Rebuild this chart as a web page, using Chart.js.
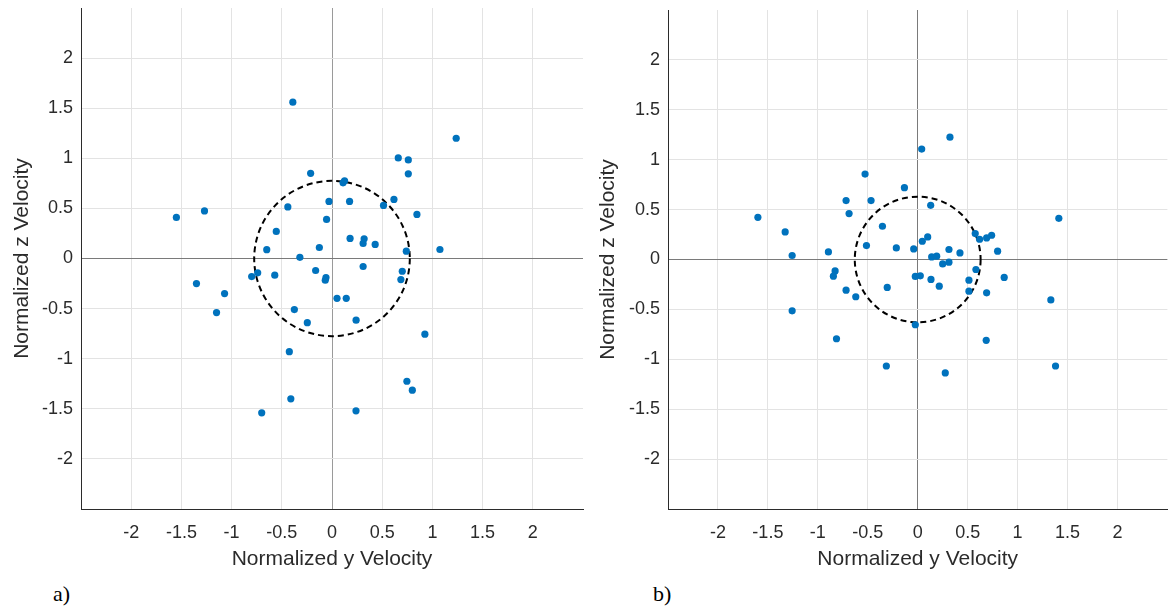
<!DOCTYPE html>
<html>
<head>
<meta charset="utf-8">
<script src="https://cdn.jsdelivr.net/npm/chart.js@4.4.1/dist/chart.umd.min.js"></script>
<style>
  body { margin: 0; background: #fff; width: 1171px; height: 610px; position: relative; overflow: hidden; }
  #wrapA { position: absolute; left: 0; top: 0; width: 590px; height: 575px; }
  #wrapB { position: absolute; left: 590px; top: 0; width: 581px; height: 575px; }
  .panel { position: absolute; top: 583px; font-family: 'Liberation Serif', 'Times New Roman', serif; font-size: 22px; line-height: 22px; color: #000; }
</style>
</head>
<body>
<div id="wrapA"><canvas id="chartA" width="590" height="575"></canvas></div>
<div id="wrapB"><canvas id="chartB" width="581" height="575"></canvas></div>
<div class="panel" id="labelA" style="left:53px"></div>
<div class="panel" id="labelB" style="left:653px"></div>
<script>
// axis setup shared by both panels
const axisMin = -2.5;
const axisMax = 2.5;
const tickValues = [-2, -1.5, -1, -0.5, 0, 0.5, 1, 1.5, 2];
const xTitle = "Normalized y Velocity";
const yTitle = "Normalized z Velocity";
const panelLabels = ["a)", "b)"];

// panel a) normalized y / z velocity
const aY = [-0.39, -1.55, -1.27, -0.44, -0.555, -0.65, -0.32, -0.80, -0.74, -0.57,
  -1.35, -1.07, -1.15, -0.375, -0.425, -0.41, -0.70, 1.237, 0.66, 0.76,
  0.76, -0.213, 0.11, 0.125, -0.03, 0.175, 0.617, 0.513, 0.846, -0.054,
  0.18, 0.32, 0.31, 0.43, -0.126, 0.74, 1.075, -0.163, 0.31, 0.70,
  -0.06, -0.067, 0.686, 0.05, 0.142, -0.246, 0.24, 0.925, 0.746, 0.80, 0.239];
const aZ = [1.56, 0.41, 0.475, 0.515, 0.27, 0.088, 0.012, -0.18, -0.143, -0.166,
  -0.25, -0.35, -0.54, -0.51, -0.93, -1.40, -1.54, 1.20, 1.004, 0.984,
  0.845, 0.85, 0.755, 0.775, 0.57, 0.57, 0.59, 0.53, 0.44, 0.39,
  0.20, 0.196, 0.15, 0.14, 0.11, 0.073, 0.09, -0.12, -0.08, -0.127,
  -0.19, -0.217, -0.21, -0.397, -0.397, -0.64, -0.616, -0.755, -1.225, -1.314, -1.52];

// panel b) normalized y / z velocity
const bY = [-1.60, -1.327, -1.257, -0.894, -0.827, -0.844, -0.717, -0.62, -0.717, -0.687,
  -0.527, -0.467, -0.353, -0.513, -0.305, 0.323, 0.04, -0.133, 0.13, 1.413,
  0.576, 0.62, 0.69, 0.74, 0.80, 0.10, 0.046, -0.214, -0.04, 0.313,
  0.423, 0.14, 0.19, 0.25, 0.313, 0.583, 0.866, -0.024, 0.026, 0.133,
  0.216, 0.513, 0.513, 0.69, 1.333, -1.257, -0.813, -0.314, -0.024, 0.686,
  0.276, 1.38];
const bZ = [0.423, 0.276, 0.04, 0.076, -0.114, -0.167, -0.307, -0.373, 0.59, 0.46,
  0.856, 0.59, 0.333, 0.14, -0.28, 1.226, 1.106, 0.72, 0.543, 0.413,
  0.26, 0.203, 0.216, 0.243, 0.083, 0.226, 0.183, 0.116, 0.106, 0.10,
  0.066, 0.026, 0.033, -0.044, -0.027, -0.10, -0.18, -0.17, -0.164, -0.20,
  -0.267, -0.207, -0.317, -0.334, -0.405, -0.514, -0.794, -1.067, -0.654, -0.81,
  -1.137, -1.067];

// radius of the dashed reference circle (centered at 0,0)
const circleRadius = [0.775, 0.63];

const textColor = "#2b2b2b";
const gridColor = "#e3e3e3";
const fontFamily = "'Liberation Sans', Arial, sans-serif";

const circlePlugin = {
    id: "refCircle",
    beforeDatasetsDraw(chart, args, opts) {
        const ctx = chart.ctx;
        const x = chart.scales.x;
        const y = chart.scales.y;
        const cx = x.getPixelForValue(0);
        const cy = y.getPixelForValue(0);
        const rx = x.getPixelForValue(opts.r) - cx;
        const ry = cy - y.getPixelForValue(opts.r);
        ctx.save();
        ctx.beginPath();
        ctx.setLineDash([6, 4]);
        ctx.lineWidth = 2;
        ctx.strokeStyle = "#000";
        ctx.ellipse(cx, cy, rx, ry, 0, 0, Math.PI * 2);
        ctx.stroke();
        ctx.restore();
    }
};

function makeChart(canvasId, ys, zs, r, layoutOpts) {
    const points = ys.map((v, i) => ({ x: v, y: zs[i] }));

    function axis(zeroColor, extra) {
        return Object.assign({
            type: "linear",
            min: axisMin,
            max: axisMax,
            afterBuildTicks: (scale) => {
                scale.ticks = tickValues.map(v => ({ value: v }));
            },
            grid: {
                drawTicks: false,
                color: (c) => (c.tick && c.tick.value === 0) ? zeroColor : gridColor,
                lineWidth: 1
            },
            border: { display: true, color: textColor, width: 1 },
            ticks: {
                color: textColor,
                font: { family: fontFamily, size: 18 },
                callback: (v) => String(v)
            }
        }, extra);
    }

    const xAxis = axis(layoutOpts.zeroX, {
        title: {
            display: true, text: xTitle, color: textColor,
            font: { family: fontFamily, size: 21 },
            padding: { top: 0, bottom: 3 }
        },
        afterFit: (scale) => {
            scale.height = 66;
            scale.paddingLeft = 0;
            scale.paddingRight = 0;
        }
    });
    xAxis.ticks.padding = 13;

    const yAxis = axis(layoutOpts.zeroY, {
        title: {
            display: true, text: yTitle, color: textColor,
            font: { family: fontFamily, size: 21 },
            padding: { top: layoutOpts.titlePad, bottom: 0 }
        },
        afterFit: (scale) => {
            scale.width = layoutOpts.yWidth;
            scale.paddingTop = 0;
            scale.paddingBottom = 0;
        }
    });
    yAxis.ticks.padding = 8;

    return new Chart(document.getElementById(canvasId), {
        type: "scatter",
        data: {
            datasets: [{
                data: points,
                backgroundColor: "#0072BD",
                borderWidth: 0,
                pointRadius: 3.6,
                pointHoverRadius: 3.6
            }]
        },
        options: {
            responsive: false,
            animation: false,
            layout: { padding: { top: layoutOpts.padTop, right: layoutOpts.padRight, left: 0, bottom: 0 } },
            scales: { x: xAxis, y: yAxis },
            plugins: {
                legend: { display: false },
                tooltip: { enabled: false },
                refCircle: { r: r }
            }
        },
        plugins: [circlePlugin]
    });
}

document.getElementById("labelA").textContent = panelLabels[0];
document.getElementById("labelB").textContent = panelLabels[1];

chartA = makeChart("chartA", aY, aZ, circleRadius[0],
    { yWidth: 81, padTop: 8, padRight: 7, titlePad: 10, zeroX: "#9a9a9a", zeroY: "#7a7a7a" });
chartB = makeChart("chartB", bY, bZ, circleRadius[1],
    { yWidth: 78, padTop: 10, padRight: 3, titlePad: 6, zeroX: "#7a7a7a", zeroY: "#7a7a7a" });
</script>
</body>
</html>
